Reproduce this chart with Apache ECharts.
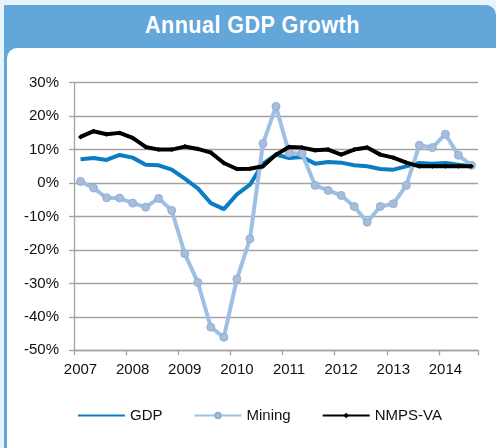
<!DOCTYPE html>
<html>
<head>
<meta charset="utf-8">
<script src="https://cdn.jsdelivr.net/npm/echarts@6/dist/echarts.min.js"></script>
<style>
  html, body { margin: 0; padding: 0; }
  body { width: 496px; height: 448px; background: #e6f4fc; position: relative; overflow: hidden; }
  #banner { position: absolute; left: 4px; top: 5px; width: 492px; height: 443px; background: #62a6da; border-top-right-radius: 10px; }
  #panel { position: absolute; left: 7px; top: 48px; right: 0; bottom: 0; background: #fff; border-top-left-radius: 10px; }
  #title { position: absolute; left: 4px; top: 11px; width: 496px; height: 40px; line-height: 40px; text-align: center;
           color: #fff; font: bold 24px 'Liberation Sans', Arial, sans-serif; }
  #title span { display: inline-block; transform: scaleX(0.9); letter-spacing: 0.5px; }
  #gdp_chart { position: absolute; left: 0; top: 0; width: 496px; height: 448px; }
</style>
</head>
<body>
<div id="banner"></div>
<div id="panel"></div>
<div id="title"><span>Annual GDP Growth</span></div>
<div id="gdp_chart"></div>
<script>
  // 季度数据 2007Q1 - 2014Q3
  var quarters = [];
  for (var y = 2007; y <= 2014; y++) {
    for (var q = 1; q <= 4; q++) {
      if (y === 2014 && q === 4) break;
      quarters.push(y + 'Q' + q);
    }
  }
  var gdp = [7.1, 7.5, 6.9, 8.4, 7.6, 5.5, 5.3, 4.0, 1.3, -1.6, -6.0, -7.8, -3.4, -0.5, 5.8, 8.5,
             7.5, 7.8, 5.8, 6.3, 6.1, 5.3, 5.0, 4.2, 4.0, 5.0, 6.0, 5.8, 6.0, 5.5, 5.0];
  var mining = [0.5, -1.5, -4.4, -4.5, -6.0, -7.2, -4.6, -8.2, -21.1, -29.7, -43.1, -46.1, -28.7, -16.7, 11.8, 22.9,
                9.0, 8.8, -0.7, -2.2, -3.7, -7.0, -11.7, -7.0, -6.2, -0.7, 11.3, 10.6, 14.6, 8.3, 5.3];
  var nmps = [13.8, 15.5, 14.6, 15.0, 13.5, 10.8, 10.0, 10.0, 10.9, 10.2, 9.1, 6.0, 4.2, 4.3, 5.0, 8.5,
              10.8, 10.6, 9.8, 10.0, 8.5, 10.0, 10.6, 8.5, 7.6, 6.1, 5.0, 5.0, 5.0, 5.0, 5.0];
  var yTicks = { min: -50, max: 30, step: 10 };

  var font = "'Liberation Sans', Arial, sans-serif";
  var gridColor = '#a3a3a3';

  var myChart = echarts.init(document.getElementById('gdp_chart'), null, { renderer: 'canvas' });
  option = {
      animation: false,
      backgroundColor: 'transparent',
      grid: { left: 74, right: 18, top: 82.7, bottom: 97.7 },
      legend: {
          left: 72,
          top: 403,
          itemWidth: 47,
          itemHeight: 7,
          itemGap: 31,
          textStyle: { color: '#111', fontSize: 15, fontFamily: font },
          data: [
              { name: 'GDP', itemStyle: { opacity: 0 } },
              { name: 'Mining' },
              { name: 'NMPS-VA' }
          ]
      },
      xAxis: [
          {
              type: 'category',
              position: 'bottom',
              data: quarters,
              axisLine: { show: false },
              axisTick: { show: false },
              axisLabel: {
                  interval: 3,
                  margin: 12,
                  color: '#111',
                  fontSize: 15,
                  fontFamily: font,
                  formatter: function (v) { return v.slice(0, 4); }
              }
          },
          {
              type: 'category',
              position: 'bottom',
              data: quarters,
              axisLine: { show: true, onZero: true, lineStyle: { color: gridColor, width: 1.3 } },
              axisTick: { show: true, interval: 3, length: 5, lineStyle: { color: gridColor, width: 1.3 } },
              axisLabel: { show: false }
          }
      ],
      yAxis: {
          type: 'value',
          min: yTicks.min,
          max: yTicks.max,
          interval: yTicks.step,
          axisLine: { show: true, lineStyle: { color: gridColor, width: 1.3 } },
          axisTick: { show: true, length: 5, lineStyle: { color: gridColor, width: 1.3 } },
          splitLine: { lineStyle: { color: gridColor, width: 1.3 } },
          axisLabel: { margin: 15, color: '#111', fontSize: 15, fontFamily: font, formatter: '{value}%' }
      },
      series: [
          {
              name: 'GDP',
              type: 'line',
              data: gdp,
              showSymbol: false,
              symbol: 'none',
              lineStyle: { color: '#0a7dc4', width: 4 },
              itemStyle: { color: '#0a7dc4' },
              z: 2
          },
          {
              name: 'Mining',
              type: 'line',
              data: mining,
              symbol: 'circle',
              symbolSize: 8,
              lineStyle: { color: '#9dc0e4', width: 4 },
              itemStyle: { color: '#abbcd8', borderColor: '#8eb0da', borderWidth: 1 },
              z: 3
          },
          {
              name: 'NMPS-VA',
              type: 'line',
              data: nmps,
              symbol: 'diamond',
              symbolSize: 5,
              lineStyle: { color: '#000', width: 4 },
              itemStyle: { color: '#000' },
              z: 4
          }
      ]
  };
  myChart.setOption(option);
  window.onresize = function () {
    myChart.resize();
  };
</script>
</body>
</html>
